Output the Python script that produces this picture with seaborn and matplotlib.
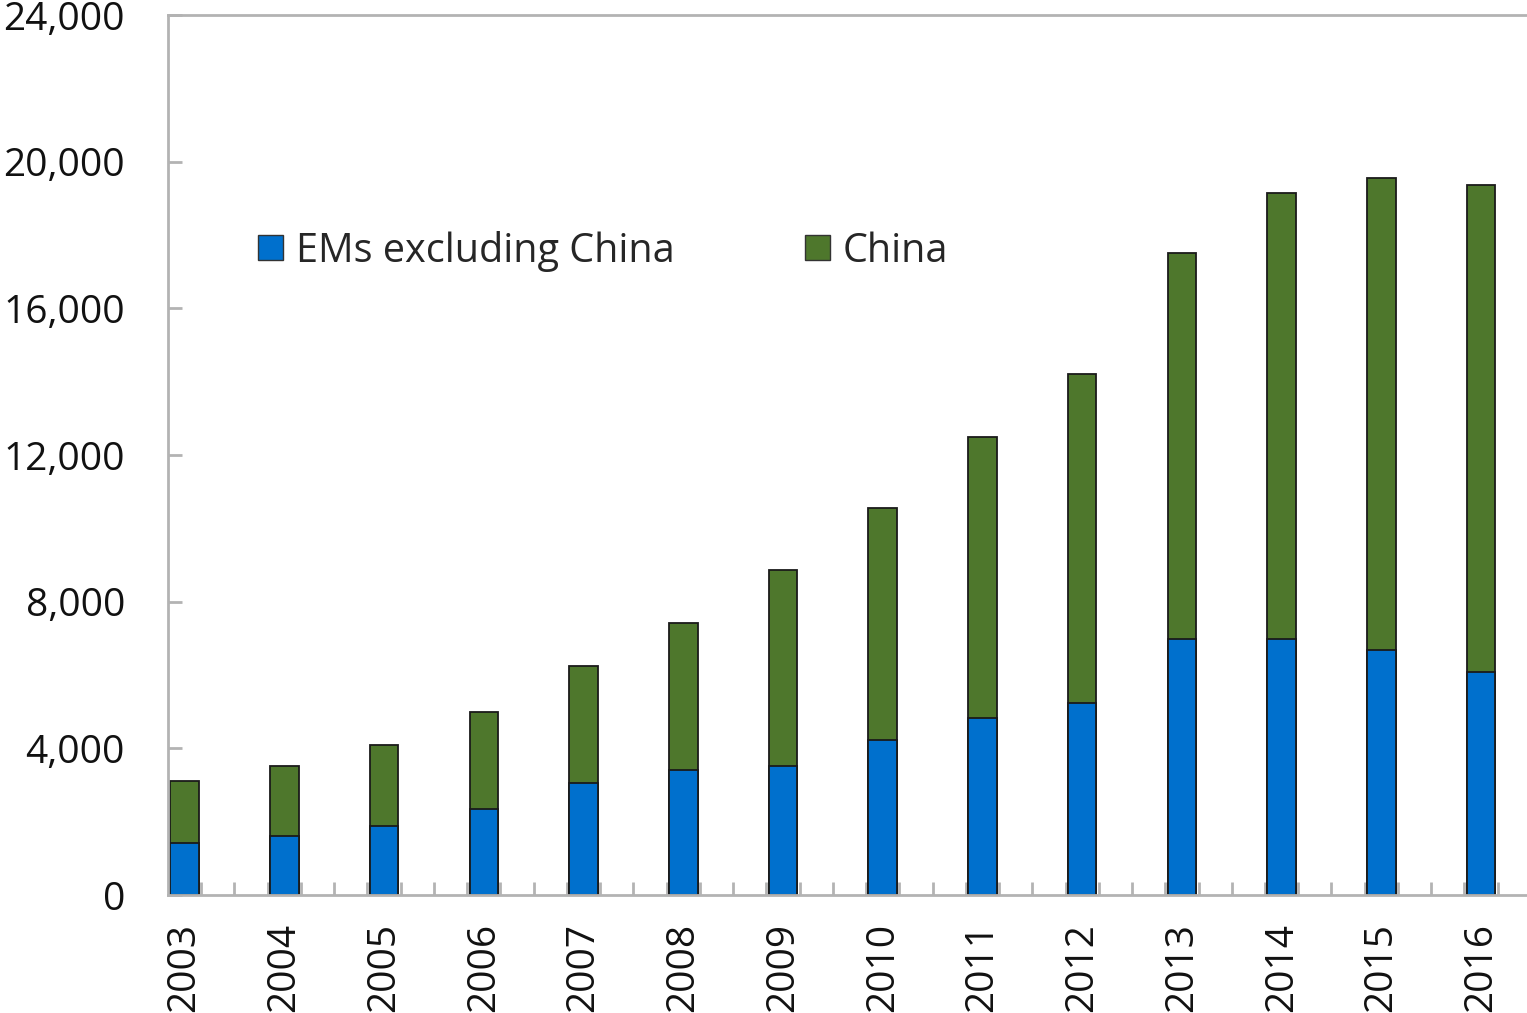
import matplotlib
matplotlib.use("Agg")
import matplotlib.pyplot as plt
from matplotlib.patches import Patch
from matplotlib.ticker import FuncFormatter
import numpy as np
import pandas as pd
import seaborn as sns

# Annual values by region
years = ["2003", "2004", "2005", "2006", "2007", "2008", "2009",
         "2010", "2011", "2012", "2013", "2014", "2015", "2016"]
ems_ex_china = [1420, 1610, 1880, 2350, 3050, 3410, 3520,
                4230, 4830, 5240, 6980, 6980, 6680, 6080]
china = [1690, 1910, 2210, 2640, 3200, 4010, 5340,
         6330, 7660, 8970, 10530, 12170, 12870, 13280]
series_names = ["EMs excluding China", "China"]
series_colors = ["#0070CD", "#4E772C"]

sns.set_theme(style="white")
plt.rcParams["font.family"] = ["Open Sans", "DejaVu Sans"]

df = pd.DataFrame({
    "year": years,
    "ems": ems_ex_china,
    "china": china,
})
df["total"] = df["ems"] + df["china"]
# each year occupies three slots on the axis; the bar fills the first one
df["pos"] = np.arange(len(years)) * 3 + 0.5

fig = plt.figure(figsize=(15.27, 10.13), dpi=100)
ax = fig.add_axes([168 / 1527, 1 - 895 / 1013, 1 - 168 / 1527 + 0.02, (895 - 15) / 1013])

bar_w = 0.86 / 3
sns.barplot(data=df, x="pos", y="total", native_scale=True, width=bar_w,
            color=series_colors[1], edgecolor="#1a1a1a", linewidth=1.3,
            saturation=1, ax=ax)
sns.barplot(data=df, x="pos", y="ems", native_scale=True, width=bar_w,
            color=series_colors[0], edgecolor="#1a1a1a", linewidth=1.3,
            saturation=1, ax=ax)

ax.set_xlim(0, 41.8)
ax.set_ylim(0, 24000)
ax.set_xlabel("")
ax.set_ylabel("")

spine_c = "#b3b3b3"
for side in ["left", "top", "bottom"]:
    ax.spines[side].set_visible(True)
    ax.spines[side].set_color(spine_c)
    ax.spines[side].set_linewidth(2)
ax.spines["right"].set_visible(False)

ax.set_yticks(np.arange(0, 24001, 4000))
ax.yaxis.set_major_formatter(FuncFormatter(lambda v, p: f"{int(v):,}"))
ax.tick_params(axis="y", which="major", direction="in", length=10, width=2,
               color=spine_c, pad=31, labelsize=28, left=True)

ax.set_xticks(df["pos"])
ax.set_xticklabels(years, rotation=90, va="top", ha="center")
ax.tick_params(axis="x", which="major", length=0, pad=20, labelsize=28)
ax.set_xticks(np.arange(1, 42), minor=True)
ax.tick_params(axis="x", which="minor", direction="in", length=9.5, width=2,
               color=spine_c, bottom=True)
for lbl in ax.get_yticklabels() + ax.get_xticklabels():
    lbl.set_color("#111111")

handles = [Patch(facecolor=c, edgecolor="#333333", linewidth=1, label=n)
           for n, c in zip(series_names, series_colors)]
fig.legend(handles=handles, loc="center left",
           bbox_to_anchor=(258 / 1527, 1 - 251 / 1013), ncol=2, frameon=False,
           fontsize=28.5, handlelength=0.62, handleheight=0.62,
           handletextpad=0.33, columnspacing=3.3, borderpad=0,
           borderaxespad=0)

fig.savefig("out.png", dpi=100)
